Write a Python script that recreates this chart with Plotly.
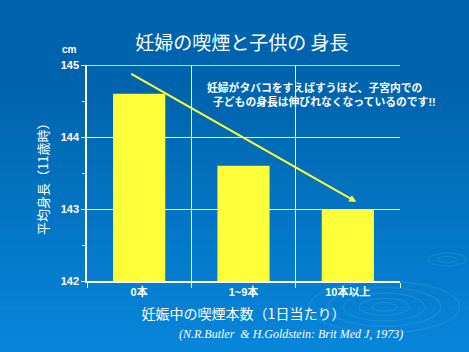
import plotly.graph_objects as go

categories = ["0本", "1~9本", "10本以上"]
heights = [144.6, 143.6, 143.0]
y_ticks = [142, 143, 144, 145]

title = "妊婦の喫煙と子供の 身長"
y_title = "平均身長（11歳時）"
x_title = "妊娠中の喫煙本数（1日当たり）"
source = "(N.R.Butler  & H.Goldstein: Brit Med J, 1973)"
note = "妊婦がタバコをすえばすうほど、子宮内での<br>  子どもの身長は伸びれなくなっているのです!!"

JP = "Noto Sans CJK JP"
BOLD = "Liberation Sans, Noto Sans CJK JP"

fig = go.Figure()
fig.add_trace(go.Bar(x=categories, y=heights, base=0, width=0.5,
                     marker=dict(color="#ffff3a", line=dict(width=0)),
                     hoverinfo="skip"))

# background gradient
shapes = []
top = (0, 99, 173)
bot = (8, 137, 221)
n = 50
ylo, yhi = -0.40, 1.40
for i in range(n):
    t = i / (n - 1)
    tt = max(0.0, (t - 0.25) / 0.75)
    c = tuple(int(top[k] + (bot[k] - top[k]) * tt) for k in range(3))
    y1 = yhi - (yhi - ylo) * i / n
    y0 = yhi - (yhi - ylo) * (i + 1) / n
    shapes.append(dict(type="rect", xref="paper", yref="paper", x0=-0.4, x1=1.4,
                       y0=y0 - 0.002, y1=y1,
                       fillcolor="rgb(%d,%d,%d)" % c, line=dict(width=0), layer="below"))
# faint ripples
for cx, cy, rads in [(0.95, -0.12, [0.04, 0.08, 0.13, 0.18, 0.24]), (1.15, 0.1, [0.03, 0.06])]:
    for r in rads:
        shapes.append(dict(type="circle", xref="paper", yref="paper",
                           x0=cx - r, x1=cx + r, y0=cy - r * 0.5, y1=cy + r * 0.5,
                           line=dict(color="rgba(255,255,255,0.07)", width=1.5), layer="below"))

fig.update_layout(
    width=469, height=352,
    margin=dict(l=87, r=69, t=65, b=71),
    paper_bgcolor="#0066b0",
    plot_bgcolor="rgba(0,0,0,0)",
    showlegend=False,
    shapes=shapes,
    title=dict(text=title, x=0.495, xref="paper", xanchor="center", y=0.877, yanchor="middle",
               font=dict(family=JP, size=19, color="white")),
    xaxis=dict(type="category", range=[-0.5, 2.5], tickson="boundaries",
               showgrid=True, gridcolor="white", gridwidth=1,
               showline=True, linecolor="white", linewidth=1.5,
               ticks="outside", ticklen=5, tickcolor="white",
               tickfont=dict(family=BOLD, size=11, color="white", weight="bold"),
               title=dict(text=x_title, standoff=12,
                          font=dict(family=JP, size=14, color="white"))),
    yaxis=dict(range=[142, 145], tickvals=y_ticks, showgrid=True, gridcolor="white",
               gridwidth=1, showline=True, linecolor="white", linewidth=1.5,
               ticks="outside", ticklen=4, tickcolor="white", zeroline=False,
               minor=dict(dtick=0.5, ticks="outside", ticklen=3, tickcolor="white", showgrid=False),
               tickfont=dict(family=BOLD, size=11, color="white", weight="bold")),
)

# y-axis title (placed like the original, slightly overlapping tick labels)
fig.add_annotation(x=42, y=(1 - (176 - 65) / 216), xref="paper", yref="paper",
                   text=y_title, textangle=-90, showarrow=False,
                   xanchor="center", yanchor="middle",
                   font=dict(family=JP, size=13, color="white"))
fig.layout.annotations[0].update(x=(42 - 87) / 313)

# top frame line
fig.add_shape(type="line", xref="paper", yref="y", x0=0, x1=1, y0=145, y1=145,
              line=dict(color="white", width=1.5))

# trend arrow
arrow_start = (-0.09, 144.89)
arrow_end = (2.08, 143.10)
fig.add_annotation(x=arrow_end[0], y=arrow_end[1], ax=arrow_start[0], ay=arrow_start[1],
                   xref="x", yref="y", axref="x", ayref="y", text="", showarrow=True,
                   arrowhead=2, arrowsize=0.7, arrowwidth=2, arrowcolor="#ffff3a")

fig.add_annotation(x=(205 - 87) / 313, y=1 - (94 - 65) / 216, xref="paper", yref="paper",
                   text=note, showarrow=False, align="left", xanchor="left", yanchor="middle",
                   font=dict(family=BOLD, size=10.8, color="white", weight="bold"))

fig.add_annotation(x=-0.026, y=1.07, xref="paper", yref="paper", text="cm", showarrow=False,
                   xanchor="right", yanchor="middle",
                   font=dict(family=BOLD, size=10, color="white", weight="bold"))
fig.add_annotation(x=(291 - 87) / 313, y=-0.245, xref="paper", yref="paper", text=source,
                   showarrow=False, xanchor="center", yanchor="middle",
                   font=dict(family="Liberation Serif", size=12, color="white", style="italic"))

fig.write_html("out.html")
